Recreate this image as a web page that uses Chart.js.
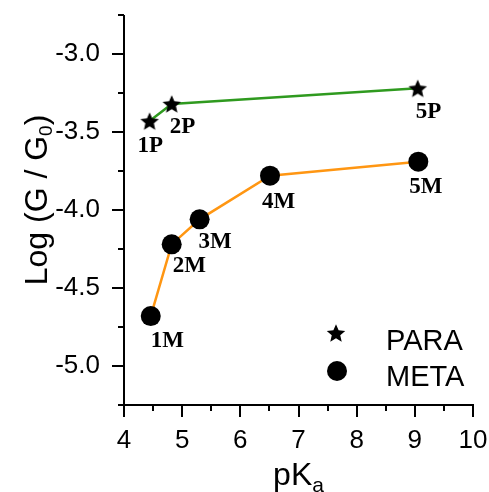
<!DOCTYPE html>
<html>
<head>
<meta charset="utf-8">
<script src="https://cdn.jsdelivr.net/npm/chart.js@4.4.1/dist/chart.umd.min.js"></script>
<style>
  html, body { margin: 0; padding: 0; background: #ffffff; }
  #wrap { width: 489px; height: 492px; }
</style>
</head>
<body>
<div id="wrap"><canvas id="c" width="489" height="492"></canvas></div>
<script>
// ---- data ----
const paraLabels = ['1P', '2P', '5P'];
const paraPKa    = [4.44, 4.82, 9.05];
const paraLogG   = [-3.43, -3.32, -3.22];

const metaLabels = ['1M', '2M', '3M', '4M', '5M'];
const metaPKa    = [4.46, 4.82, 5.30, 6.51, 9.06];
const metaLogG   = [-4.68, -4.22, -4.06, -3.78, -3.69];

const legendNames = ['PARA', 'META'];
const xTickValues = [4, 5, 6, 7, 8, 9, 10];
const yTickValues = [-3.0, -3.5, -4.0, -4.5, -5.0];

// ---- label placement (pixel offsets from the marker: dx = left edge, dy = baseline) ----
const paraLabelOffsets = [[-12, 31], [-2, 29], [-2, 30]];
const metaLabelOffsets = [[0, 31], [1, 28], [-1, 29], [-8, 32], [-9, 31]];

const SANS = '"Liberation Sans", Arial, sans-serif';
const SERIF = '"Liberation Serif", "Times New Roman", serif';

function makeStar(size) {
  const cv = document.createElement('canvas');
  cv.width = size; cv.height = size;
  const g = cv.getContext('2d');
  const cx = size / 2, cy = size / 2 + 0.9, R = size / 2 - 0.3, r = R * 0.46;
  g.beginPath();
  for (let i = 0; i < 10; i++) {
    const rad = (i % 2 === 0) ? R : r;
    const a = -Math.PI / 2 + i * Math.PI / 5;
    const px = cx + rad * Math.cos(a), py = cy + rad * Math.sin(a);
    if (i === 0) g.moveTo(px, py); else g.lineTo(px, py);
  }
  g.closePath();
  g.fillStyle = '#000';
  g.fill();
  return cv;
}
const starImg = makeStar(20);

const toPts = (xs, ys) => xs.map((x, i) => ({ x: x, y: ys[i] }));

function zeroPad(scale) {
  scale.paddingTop = 0; scale.paddingBottom = 0;
  scale.paddingLeft = 0; scale.paddingRight = 0;
}

const axesPlugin = {
  id: 'axesPlugin',
  afterDraw(chart) {
    const ctx = chart.ctx;
    const a = chart.chartArea;
    const xs = chart.scales.x, ys = chart.scales.y;
    ctx.save();
    ctx.strokeStyle = '#000';
    ctx.lineWidth = 2;
    ctx.lineCap = 'butt';
    // axis lines
    ctx.beginPath();
    ctx.moveTo(a.left, a.top);
    ctx.lineTo(a.left, a.bottom + 1);
    ctx.moveTo(a.left - 1, a.bottom);
    ctx.lineTo(a.right + 1, a.bottom);
    ctx.stroke();
    // y ticks
    for (let v = ys.min; v <= ys.max + 1e-9; v += 0.25) {
      const isMajor = Math.abs(v * 2 - Math.round(v * 2)) < 1e-6;
      const py = Math.round(ys.getPixelForValue(v));
      const len = isMajor ? 12 : 6;
      ctx.beginPath();
      ctx.moveTo(a.left - len, py);
      ctx.lineTo(a.left, py);
      ctx.stroke();
    }
    // x ticks
    for (let v = xs.min; v <= xs.max + 1e-9; v += 0.5) {
      const isMajor = Math.abs(v - Math.round(v)) < 1e-6;
      const px = Math.round(xs.getPixelForValue(v));
      const len = isMajor ? 12 : 6;
      ctx.beginPath();
      ctx.moveTo(px, a.bottom);
      ctx.lineTo(px, a.bottom + len);
      ctx.stroke();
    }
    // y title: Log (G / G0)
    ctx.fillStyle = '#000';
    ctx.textBaseline = 'alphabetic';
    ctx.textAlign = 'left';
    const big = '32px ' + SANS, small = '19px ' + SANS;
    ctx.font = big;
    const p1 = 'Log (G / G', p3 = ')';
    const w1 = ctx.measureText(p1).width, w3 = ctx.measureText(p3).width;
    ctx.font = small;
    const w2 = ctx.measureText('0').width;
    const total = w1 + w2 + w3;
    ctx.save();
    ctx.translate(47, (a.top + a.bottom) / 2 - 10);
    ctx.rotate(-Math.PI / 2);
    let sx = -total / 2;
    ctx.font = big; ctx.fillText(p1, sx, 0); sx += w1;
    ctx.font = small; ctx.fillText('0', sx, 5); sx += w2;
    ctx.font = big; ctx.fillText(p3, sx, 0);
    ctx.restore();
    // x title: pKa
    const bx = '32px ' + SANS, sxf = '21px ' + SANS;
    ctx.font = bx; const wp = ctx.measureText('pK').width;
    ctx.font = sxf; const wa = ctx.measureText('a').width;
    let tx = (a.left + a.right) / 2 - (wp + wa) / 2;
    ctx.font = bx; ctx.fillText('pK', tx, a.bottom + 80);
    ctx.font = sxf; ctx.fillText('a', tx + wp, a.bottom + 87);
    ctx.restore();
  }
};

const labelPlugin = {
  id: 'labelPlugin',
  afterDatasetsDraw(chart) {
    const ctx = chart.ctx;
    ctx.save();
    ctx.font = 'bold 23px ' + SERIF;
    ctx.fillStyle = '#000';
    ctx.textAlign = 'left';
    ctx.textBaseline = 'alphabetic';
    const sets = [[paraLabels, paraLabelOffsets], [metaLabels, metaLabelOffsets]];
    sets.forEach((s, di) => {
      const meta = chart.getDatasetMeta(di);
      meta.data.forEach((el, i) => {
        const off = s[1][i];
        ctx.fillText(s[0][i], el.x + off[0], el.y + off[1]);
      });
    });
    ctx.restore();
  }
};

const legendPlugin = {
  id: 'legendPlugin',
  afterDraw(chart) {
    const ctx = chart.ctx;
    const a = chart.chartArea;
    ctx.save();
    // PARA
    const sx = a.left + 212, sy = a.top + 318;
    ctx.drawImage(starImg, sx - starImg.width / 2, sy - starImg.height / 2);
    // META
    ctx.beginPath();
    ctx.arc(a.left + 213, a.top + 356, 10, 0, Math.PI * 2);
    ctx.fillStyle = '#000';
    ctx.fill();
    ctx.font = '29px ' + SANS;
    ctx.textAlign = 'left';
    ctx.textBaseline = 'alphabetic';
    ctx.fillText(legendNames[0], a.left + 262, a.top + 335);
    ctx.fillText(legendNames[1], a.left + 262, a.top + 371);
    ctx.restore();
  }
};

new Chart(document.getElementById('c'), {
  type: 'scatter',
  data: {
    datasets: [
      {
        label: legendNames[0],
        data: toPts(paraPKa, paraLogG),
        showLine: true,
        borderColor: '#2f9a1f',
        borderWidth: 2.5,
        pointStyle: starImg,
        pointRadius: 10,
        pointBackgroundColor: '#000',
        pointBorderColor: '#000'
      },
      {
        label: legendNames[1],
        data: toPts(metaPKa, metaLogG),
        showLine: true,
        borderColor: '#ff9612',
        borderWidth: 2.5,
        pointStyle: 'circle',
        pointRadius: 10,
        pointBorderWidth: 0,
        pointBackgroundColor: '#000',
        pointBorderColor: '#000'
      }
    ]
  },
  options: {
    responsive: false,
    animation: false,
    devicePixelRatio: 1,
    layout: { padding: { left: 0, top: 15, right: 16, bottom: 0 } },
    plugins: {
      legend: { display: false },
      tooltip: { enabled: false },
      title: { display: false }
    },
    scales: {
      x: {
        type: 'linear',
        min: 4,
        max: 10,
        afterBuildTicks(scale) { scale.ticks = xTickValues.map(v => ({ value: v })); },
        afterFit(scale) { scale.height = 87; zeroPad(scale); },
        grid: { display: false, drawTicks: false },
        border: { display: false },
        ticks: {
          autoSkip: false,
          maxRotation: 0,
          padding: 20,
          color: '#000',
          font: { family: SANS, size: 26 },
          callback: (v) => String(v)
        }
      },
      y: {
        type: 'linear',
        min: -5.25,
        max: -2.75,
        afterBuildTicks(scale) { scale.ticks = yTickValues.map(v => ({ value: v })); },
        afterFit(scale) { scale.width = 124; zeroPad(scale); },
        grid: { display: false, drawTicks: false },
        border: { display: false },
        ticks: {
          autoSkip: false,
          padding: 24,
          color: '#000',
          font: { family: SANS, size: 26 },
          callback: (v) => Number(v).toFixed(1)
        }
      }
    }
  },
  plugins: [axesPlugin, labelPlugin, legendPlugin]
});
</script>
</body>
</html>
